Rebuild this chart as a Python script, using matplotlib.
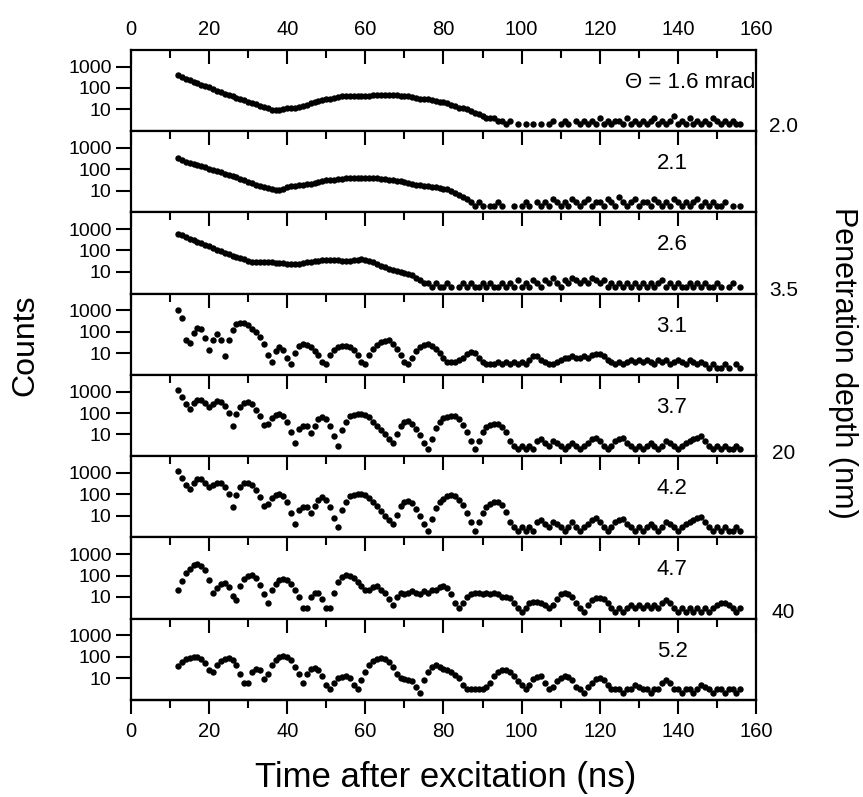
import numpy as np
import matplotlib.pyplot as plt
from matplotlib.ticker import MultipleLocator, NullLocator
import matplotlib.transforms as mtransforms

plt.rcParams['font.family'] = ['Liberation Sans', 'DejaVu Sans']

# time channels, one value per ns
time_ns = np.arange(12, 157)

panel_labels = ["\u0398 = 1.6 mrad", "2.1", "2.6", "3.1", "3.7", "4.2", "4.7", "5.2"]
depth_labels = ["2.0", "3.5", "20", "40"]

counts_16 = [
    390, 320, 270, 235, 200, 170, 145, 125, 107, 90, 74, 62, 51, 45, 40,
    35, 30, 26, 23, 20, 17, 15, 13, 11, 9, 9, 9, 10, 11, 11,
    12, 13, 14, 16, 19, 21, 25, 28, 30, 32, 33, 36, 40, 40, 40,
    42, 43, 43, 44, 44, 45, 45, 48, 48, 47, 46, 45, 44, 43, 40,
    36, 35, 32, 32, 30, 28, 25, 23, 21, 19, 16, 14, 12, 11, 10,
    8, 7, 6, 5, 4, 4, 4, 3, 3, 2, 3, 0, 2, 0, 2,
    0, 2, 0, 2, 0, 2, 3, 0, 2, 3, 2, 0, 3, 2, 3,
    2, 3, 2, 4, 2, 3, 2, 3, 3, 2, 4, 2, 3, 2, 3,
    2, 3, 4, 2, 3, 2, 3, 5, 2, 3, 2, 4, 2, 3, 2,
    3, 2, 4, 3, 2, 3, 2, 3, 2, 2,
]
counts_21 = [
    320, 270, 225, 200, 175, 155, 138, 123, 107, 93, 79, 71, 62, 54, 47,
    42, 36, 30, 25, 22, 19, 17, 14, 13, 12, 11, 11, 12, 14, 16,
    17, 19, 19, 20, 21, 23, 25, 27, 30, 32, 32, 34, 36, 38, 39,
    40, 40, 40, 40, 39, 39, 37, 36, 35, 32, 30, 29, 27, 25, 23,
    21, 19, 18, 17, 16, 15, 14, 13, 12, 12, 10, 8, 6, 5, 4,
    3, 2, 3, 2, 0, 2, 2, 3, 2, 0, 0, 2, 0, 2, 3,
    2, 0, 3, 2, 3, 2, 4, 3, 2, 3, 2, 4, 3, 2, 3,
    4, 2, 3, 3, 2, 4, 3, 2, 5, 3, 2, 3, 4, 2, 3,
    3, 2, 4, 3, 2, 3, 2, 4, 3, 2, 3, 2, 3, 4, 2,
    3, 2, 3, 2, 2, 3, 0, 2, 0, 2,
]
counts_26 = [
    620, 510, 430, 355, 300, 257, 224, 186, 155, 129, 107, 91, 78, 66, 58,
    50, 45, 38, 33, 30, 28, 28, 28, 28, 28, 26, 26, 25, 23, 23,
    23, 24, 25, 28, 30, 32, 33, 35, 36, 36, 36, 35, 33, 33, 33,
    35, 36, 38, 36, 32, 28, 23, 18, 17, 14, 12, 11, 10, 9, 8,
    7, 5, 4, 3, 3, 2, 3, 2, 2, 3, 2, 0, 2, 3, 2,
    3, 2, 2, 3, 2, 3, 2, 2, 3, 2, 3, 2, 4, 2, 3,
    2, 4, 3, 2, 4, 3, 5, 3, 2, 4, 3, 5, 4, 3, 4,
    3, 5, 4, 3, 4, 2, 3, 2, 3, 2, 3, 2, 3, 2, 3,
    2, 3, 2, 3, 4, 2, 3, 2, 3, 2, 2, 3, 2, 3, 2,
    3, 2, 2, 3, 2, 0, 2, 3, 0, 2,
]
counts_31 = [
    1000, 420, 40, 30, 89, 148, 132, 50, 14, 40, 79, 40, 7, 40, 126,
    224, 269, 251, 200, 141, 95, 56, 27, 8, 4, 12, 19, 14, 6, 3,
    10, 22, 27, 25, 20, 13, 8, 4, 3, 8, 14, 20, 22, 22, 20,
    14, 8, 4, 3, 8, 16, 25, 32, 35, 39, 28, 16, 8, 4, 3,
    6, 13, 20, 25, 27, 22, 16, 10, 6, 4, 4, 4, 5, 6, 9,
    11, 10, 6, 4, 3, 3, 3, 4, 3, 4, 3, 4, 3, 4, 3,
    5, 7, 7, 5, 4, 3, 3, 4, 5, 6, 6, 7, 6, 6, 7,
    6, 8, 9, 9, 7, 5, 4, 3, 4, 3, 4, 5, 4, 5, 4,
    5, 4, 3, 5, 4, 5, 3, 4, 5, 4, 3, 5, 4, 3, 4,
    3, 2, 3, 2, 2, 3, 2, 0, 3, 2,
]
counts_37 = [
    1150, 560, 250, 158, 280, 420, 420, 280, 186, 263, 347, 331, 224, 100, 25,
    89, 200, 302, 324, 263, 141, 74, 28, 32, 56, 83, 89, 76, 40, 13,
    4, 18, 25, 24, 12, 25, 50, 62, 50, 25, 8, 3, 16, 40, 71,
    83, 89, 89, 83, 63, 40, 25, 16, 10, 6, 4, 10, 25, 40, 42,
    32, 18, 9, 4, 2, 6, 20, 40, 56, 68, 74, 71, 50, 28, 13,
    5, 2, 5, 13, 22, 28, 30, 30, 22, 13, 5, 3, 2, 3, 2,
    3, 2, 5, 6, 4, 3, 5, 4, 3, 2, 3, 4, 3, 2, 3,
    4, 6, 7, 5, 3, 2, 3, 5, 6, 7, 4, 3, 2, 3, 2,
    3, 4, 3, 2, 3, 5, 4, 3, 2, 3, 4, 5, 6, 7, 8,
    5, 3, 2, 3, 2, 3, 2, 2, 3, 2,
]
counts_42 = [
    1260, 600, 260, 170, 320, 500, 520, 320, 210, 280, 347, 330, 224, 100, 25,
    95, 220, 320, 346, 280, 150, 74, 28, 35, 65, 95, 107, 85, 45, 14,
    4, 18, 25, 25, 13, 28, 56, 74, 56, 25, 8, 3, 18, 45, 80,
    95, 107, 107, 95, 70, 45, 28, 17, 10, 6, 4, 11, 28, 45, 51,
    38, 20, 10, 4, 2, 7, 22, 45, 63, 80, 89, 80, 56, 30, 14,
    5, 2, 5, 14, 25, 36, 42, 42, 30, 15, 5, 3, 2, 3, 2,
    3, 2, 5, 6, 4, 3, 5, 4, 3, 2, 3, 5, 3, 2, 3,
    4, 6, 8, 5, 3, 2, 3, 5, 6, 7, 4, 3, 2, 3, 2,
    3, 4, 3, 2, 3, 5, 4, 3, 2, 3, 4, 5, 6, 8, 9,
    5, 3, 2, 3, 2, 3, 2, 2, 3, 2,
]
counts_47 = [
    20, 56, 126, 200, 302, 331, 282, 178, 63, 16, 25, 42, 45, 28, 11,
    7, 32, 71, 100, 107, 79, 35, 14, 5, 20, 40, 60, 69, 63, 40,
    22, 10, 3, 3, 10, 16, 16, 8, 3, 3, 16, 50, 89, 107, 100,
    79, 50, 32, 20, 20, 28, 33, 22, 16, 8, 4, 10, 16, 13, 16,
    18, 16, 14, 18, 16, 20, 22, 28, 33, 25, 13, 5, 3, 5, 10,
    14, 16, 16, 14, 16, 14, 16, 13, 10, 10, 9, 5, 3, 2, 3,
    5, 6, 6, 5, 4, 3, 4, 8, 13, 16, 14, 10, 5, 3, 2,
    4, 7, 9, 9, 8, 5, 3, 2, 3, 2, 3, 4, 3, 4, 3,
    4, 3, 4, 3, 5, 7, 5, 3, 2, 3, 2, 3, 2, 3, 2,
    3, 2, 3, 4, 5, 5, 4, 3, 2, 3,
]
counts_52 = [
    36, 56, 79, 89, 95, 93, 79, 50, 25, 20, 40, 63, 79, 89, 71,
    40, 16, 6, 6, 20, 28, 25, 9, 16, 40, 71, 93, 107, 100, 71,
    35, 16, 6, 16, 28, 30, 25, 13, 5, 3, 6, 10, 11, 12, 10,
    5, 3, 8, 20, 40, 63, 79, 89, 79, 56, 32, 16, 10, 9, 8,
    7, 4, 2, 8, 20, 35, 43, 35, 28, 25, 20, 14, 10, 5, 3,
    3, 3, 3, 3, 4, 6, 13, 20, 24, 25, 20, 13, 7, 5, 3,
    5, 9, 11, 12, 6, 3, 4, 7, 10, 12, 11, 8, 4, 3, 2,
    4, 6, 9, 10, 8, 5, 3, 3, 3, 2, 3, 3, 5, 4, 3,
    3, 2, 3, 3, 6, 8, 6, 3, 3, 2, 3, 3, 2, 3, 5,
    4, 3, 2, 3, 3, 2, 3, 3, 2, 3,
]

all_counts = [counts_16, counts_21, counts_26, counts_31,
              counts_37, counts_42, counts_47, counts_52]

fig = plt.figure(figsize=(8.63, 7.97), dpi=100)
gs = fig.add_gridspec(8, 1, left=0.1518, right=0.876, top=0.9373,
                      bottom=0.1217, hspace=0)
axes = []
for i in range(8):
    ax = fig.add_subplot(gs[i], sharex=axes[0] if axes else None)
    axes.append(ax)

for i, ax in enumerate(axes):
    y = np.array(all_counts[i], dtype=float)
    y[y <= 0] = np.nan  # empty channels are not shown on log axis
    ax.plot(time_ns, y, 'o', color='k', ms=4.6, mew=0)

    ax.set_yscale('log')
    ax.set_ylim(0.95, 6000)
    ax.set_xlim(0, 160)
    ax.set_yticks([10, 100, 1000])
    ax.set_yticklabels(['10', '100', '1000'])
    ax.yaxis.set_minor_locator(NullLocator())
    ax.tick_params(axis='y', which='major', direction='out', length=11,
                   width=1.5, labelsize=14, pad=3, right=False)

    ax.xaxis.set_major_locator(MultipleLocator(20))
    ax.xaxis.set_minor_locator(MultipleLocator(10))
    ax.tick_params(axis='x', which='both', top=True, bottom=False,
                   direction='in', width=1.5, labelbottom=False,
                   labeltop=(i == 0), labelsize=14.5, pad=8)
    ax.tick_params(axis='x', which='major', length=10)
    ax.tick_params(axis='x', which='minor', length=5.5)
    for s in ax.spines.values():
        s.set_linewidth(1.6)

    trans = mtransforms.blended_transform_factory(ax.transData, ax.transAxes)
    if i == 0:
        ax.text(159.8, 0.6, panel_labels[i], transform=trans, ha='right',
                va='center', fontsize=16)
    else:
        ax.text(138.5, 0.6, panel_labels[i], transform=trans, ha='center',
                va='center', fontsize=16)

# bottom axis of the last panel: outward ticks with labels
sec = axes[-1].secondary_xaxis('bottom')
sec.xaxis.set_major_locator(MultipleLocator(20))
sec.xaxis.set_minor_locator(MultipleLocator(10))
sec.tick_params(axis='x', which='both', direction='out', width=1.5,
                labelsize=14.5, pad=6)
sec.tick_params(axis='x', which='major', length=10)
sec.tick_params(axis='x', which='minor', length=5.5)
sec.spines['bottom'].set_linewidth(1.6)

# penetration depth markers on the right
for lab, ypos in zip(depth_labels, [0.8407, 0.636, 0.4316, 0.2309]):
    fig.text(0.908, ypos, lab, ha='center', va='center', fontsize=15)

fig.text(0.029, 0.567, "Counts", rotation=90, ha='center', va='center',
         fontsize=23)
fig.text(0.977, 0.545, "Penetration depth (nm)", rotation=-90, ha='center',
         va='center', fontsize=22)
fig.text(0.516, 0.012, "Time after excitation (ns)", ha='center',
         va='baseline', fontsize=25)

fig.savefig("out.png", dpi=100)
